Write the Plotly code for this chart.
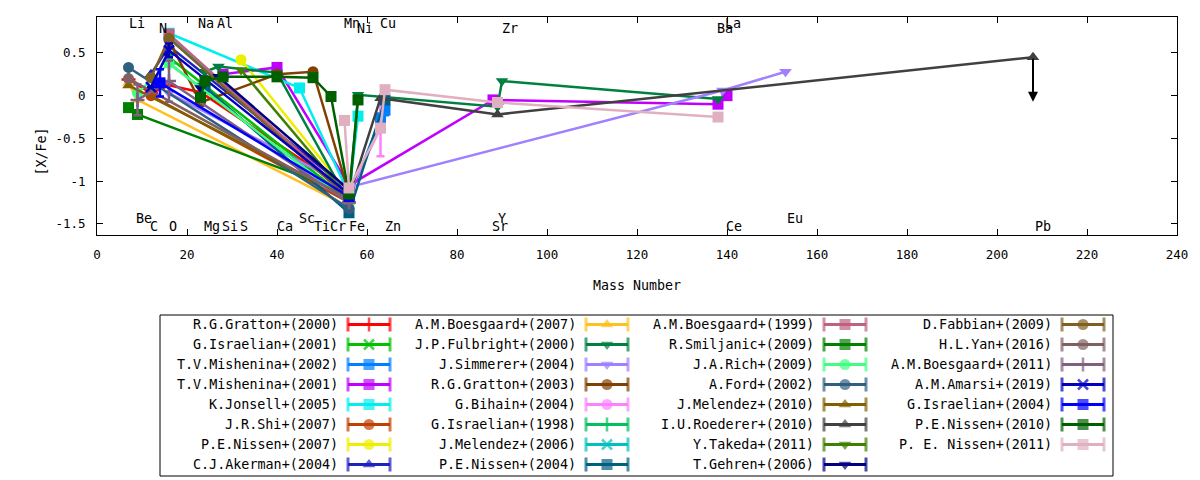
import plotly.graph_objects as go

# mass number used for each element
MASS = {"Li": 7, "Be": 9, "C": 12, "N": 14, "O": 16, "Na": 23, "Mg": 24, "Al": 27,
        "Si": 28, "S": 32, "Ca": 40, "Sc": 45, "Ti": 48, "Cr": 52, "Mn": 55, "Fe": 56,
        "Ni": 58, "Cu": 63, "Zn": 64, "Sr": 88, "Y": 89, "Zr": 90, "Ba": 138,
        "La": 139, "Ce": 140, "Eu": 153, "Pb": 208}

# (element, [X/Fe], optional error)
GRATTON_2000 = [("Li", 0.19), ("C", 0.03), ("O", 0.12), ("Na", 0.04), ("Fe", -1.12)]
ISRAELIAN_2001 = [("O", 0.45), ("Fe", -1.22)]
MISHENINA_2002 = [("Fe", -1.2), ("Cu", -0.27, 0.06), ("Zn", -0.17, 0.06)]
MISHENINA_2001 = [("Si", 0.25), ("Ca", 0.33), ("Fe", -1.05), ("Sr", -0.05), ("Ba", -0.1), ("Ce", 0.0)]
JONSELL_2005 = [("O", 0.73), ("Sc", 0.09), ("Fe", -1.15), ("Ni", -0.24)]
SHI_2007 = [("C", 0.0), ("Fe", -1.25)]
NISSEN_2007 = [("S", 0.42), ("Fe", -1.15)]
AKERMAN_2004 = [("C", 0.25), ("O", 0.58), ("Fe", -1.1)]
BOESGAARD_2007 = [("Li", 0.15), ("Be", -0.05), ("Fe", -1.3)]
FULBRIGHT_2000 = [("Na", 0.12), ("Mg", 0.28), ("Al", 0.34), ("Ca", 0.27), ("Fe", -1.25),
                  ("Ni", 0.01), ("Y", -0.13), ("Zr", 0.17), ("Ba", -0.04)]
SIMMERER_2004 = [("O", 0.03), ("Fe", -1.07), ("La", 0.06), ("Eu", 0.28)]
GRATTON_2003 = [("O", 0.65), ("Na", -0.08), ("Ca", 0.25), ("Ti", 0.28), ("Fe", -1.15)]
BIHAIN_2004 = [("Fe", -1.13), ("Cu", -0.38, 0.33)]
ISRAELIAN_1998 = [("O", 0.38), ("Fe", -1.25)]
MELENDEZ_2006 = [("O", 0.7), ("Fe", -1.2)]
NISSEN_2004 = [("Mg", 0.1), ("Fe", -1.37), ("Zn", -0.05)]
BOESGAARD_1999 = [("O", 0.72), ("Fe", -1.18)]
SMILJANIC_2009 = [("Li", -0.14), ("Be", -0.22), ("Fe", -1.15)]
RICH_2009 = [("Be", 0.03), ("O", 0.38), ("Fe", -1.25)]
FORD_2002 = [("Li", 0.33), ("Fe", -1.32)]
MELENDEZ_2010 = [("Li", 0.12), ("Fe", -1.2)]
ROEDERER_2010 = [("Fe", -1.18), ("Cu", -0.03), ("Y", -0.22), ("Pb", 0.45)]
TAKEDA_2011 = [("S", 0.3), ("Fe", -1.2)]
GEHREN_2006 = [("Na", 0.09), ("Mg", 0.2), ("Al", 0.22), ("Fe", -1.1)]
FABBIAN_2009 = [("C", 0.21), ("O", 0.67), ("Fe", -1.2)]
YAN_2016 = [("Li", 0.2), ("Fe", -1.22)]
BOESGAARD_2011 = [("Be", -0.05, 0.18), ("O", 0.17, 0.24), ("Fe", -1.25)]
AMARSI_2019 = [("C", 0.1), ("O", 0.53, 0.08), ("Fe", -1.15)]
ISRAELIAN_2004 = [("N", 0.15, 0.16), ("Fe", -1.18)]
NISSEN_2010 = [("Na", -0.02), ("Mg", 0.17), ("Si", 0.22), ("Ca", 0.22), ("Ti", 0.21),
               ("Cr", -0.01), ("Fe", -1.15), ("Ni", -0.05)]
NISSEN_2011 = [("Mn", -0.29), ("Fe", -1.08), ("Cu", -0.38), ("Zn", 0.07), ("Y", -0.08), ("Ba", -0.25)]

SERIES = [
    ("R.G.Gratton+(2000)", GRATTON_2000), ("G.Israelian+(2001)", ISRAELIAN_2001),
    ("T.V.Mishenina+(2002)", MISHENINA_2002), ("T.V.Mishenina+(2001)", MISHENINA_2001),
    ("K.Jonsell+(2005)", JONSELL_2005), ("J.R.Shi+(2007)", SHI_2007),
    ("P.E.Nissen+(2007)", NISSEN_2007), ("C.J.Akerman+(2004)", AKERMAN_2004),
    ("A.M.Boesgaard+(2007)", BOESGAARD_2007), ("J.P.Fulbright+(2000)", FULBRIGHT_2000),
    ("J.Simmerer+(2004)", SIMMERER_2004), ("R.G.Gratton+(2003)", GRATTON_2003),
    ("G.Bihain+(2004)", BIHAIN_2004), ("G.Israelian+(1998)", ISRAELIAN_1998),
    ("J.Melendez+(2006)", MELENDEZ_2006), ("P.E.Nissen+(2004)", NISSEN_2004),
    ("A.M.Boesgaard+(1999)", BOESGAARD_1999), ("R.Smiljanic+(2009)", SMILJANIC_2009),
    ("J.A.Rich+(2009)", RICH_2009), ("A.Ford+(2002)", FORD_2002),
    ("J.Melendez+(2010)", MELENDEZ_2010), ("I.U.Roederer+(2010)", ROEDERER_2010),
    ("Y.Takeda+(2011)", TAKEDA_2011), ("T.Gehren+(2006)", GEHREN_2006),
    ("D.Fabbian+(2009)", FABBIAN_2009), ("H.L.Yan+(2016)", YAN_2016),
    ("A.M.Boesgaard+(2011)", BOESGAARD_2011), ("A.M.Amarsi+(2019)", AMARSI_2019),
    ("G.Israelian+(2004)", ISRAELIAN_2004), ("P.E.Nissen+(2010)", NISSEN_2010),
    ("P. E. Nissen+(2011)", NISSEN_2011),
]

COLORS = ["#ff0000", "#00c000", "#0080ff", "#c000ff", "#00eeee", "#c04000", "#eeee00", "#2020c0",
          "#ffc020", "#008040", "#a080ff", "#804000", "#ff80ff", "#00c060", "#00c0c0", "#006080",
          "#c06080", "#008000", "#40ff80", "#306080", "#806000", "#404040", "#408000", "#000080",
          "#806020", "#806060", "#806080", "#0000c0", "#0000ff", "#006000", "#e0b0c0"]
SYMBOLS = ["cross-thin", "x-thin", "square", "square", "square", "circle", "circle", "triangle-up",
           "triangle-up", "triangle-down", "triangle-down", "circle", "circle", "cross-thin", "x-thin",
           "square", "square", "square", "circle", "circle", "triangle-up", "triangle-up",
           "triangle-down", "triangle-down", "circle", "circle", "cross-thin", "x-thin",
           "square", "square", "square"]

# upper limit (arrow down) for this series/element
UPPER_LIMIT = ("I.U.Roederer+(2010)", "Pb")

# element labels drawn on the plot
LABEL_NAMES = ["Li", "Na", "Al", "Mn", "Cu", "La",
               "N", "Ni", "Zr", "Ba",
               "C", "O", "Mg", "Si", "S", "Ca", "Ti", "Cr", "Fe", "Zn", "Sr", "Ce", "Pb",
               "Be", "Sc", "Y", "Eu"]
LABEL_X = [6.6, 22.1, 26.2, 54.4, 62.4, 139.0,
           13.3, 57.3, 89.6, 137.3,
           11.3, 15.5, 23.3, 27.3, 31.3, 39.6, 47.7, 51.3, 55.5, 63.6, 87.3, 139.4, 207.9,
           8.2, 44.4, 88.7, 152.9]
LABEL_Y = [0.84] * 6 + [0.785] * 4 + [-1.525] * 13 + [-1.44] * 4

FONT = "DejaVu Sans Mono"

fig = go.Figure()

for i, (name, pts) in enumerate(SERIES):
    c = COLORS[i]
    sym = SYMBOLS[i]
    xs = [MASS[p[0]] for p in pts]
    ys = [p[1] for p in pts]
    errs = [p[2] if len(p) > 2 else None for p in pts]
    thin = sym.endswith("thin")
    fig.add_trace(go.Scatter(
        x=xs, y=ys, mode="lines+markers", name=name, showlegend=False,
        line=dict(color=c, width=2.5),
        marker=dict(symbol=sym, color=c, size=11 if not thin else 10,
                    line=dict(color=c, width=2.5 if thin else 0)),
        error_y=dict(type="data", array=errs, visible=any(e is not None for e in errs),
                     color=c, thickness=2.5, width=4),
        xaxis="x", yaxis="y",
    ))

# upper limit arrow
for name, pts in SERIES:
    if name == UPPER_LIMIT[0]:
        for p in pts:
            if p[0] == UPPER_LIMIT[1]:
                fig.add_annotation(x=MASS[p[0]], y=p[1] - 0.52, ax=MASS[p[0]], ay=p[1],
                                   xref="x", yref="y", axref="x", ayref="y", text="",
                                   showarrow=True, arrowhead=2, arrowsize=1,
                                   arrowwidth=2, arrowcolor="black")

for name, lx, ly in zip(LABEL_NAMES, LABEL_X, LABEL_Y):
    fig.add_annotation(x=lx, y=ly, xref="x", yref="y", text=name, showarrow=False,
                       xanchor="left", yanchor="middle",
                       font=dict(family=FONT, size=13.4, color="black"))

# legend drawn on its own pixel-like axis, column-major like gnuplot
rows = 8
for i, (name, pts) in enumerate(SERIES):
    col, row = divmod(i, rows)
    y = 324.5 + 20 * row
    x0 = 348 + 238 * col
    c = COLORS[i]
    sym = SYMBOLS[i]
    thin = sym.endswith("thin")
    fig.add_trace(go.Scatter(
        x=[x0, x0 + 21, x0 + 42], y=[y, y, y], mode="lines+markers", showlegend=False,
        hoverinfo="skip", line=dict(color=c, width=3),
        marker=dict(symbol=["line-ns", sym, "line-ns"], color=c,
                    size=[10, 10 if thin else 11, 10],
                    line=dict(color=c, width=[3, 2.5 if thin else 0, 3])),
        xaxis="x2", yaxis="y2",
    ))
    fig.add_annotation(x=x0 - 8, y=y, xref="x2", yref="y2", text=name, showarrow=False,
                       xanchor="right", yanchor="middle",
                       font=dict(family=FONT, size=13.4, color="black"))

fig.add_shape(type="rect", xref="x2", yref="y2", x0=160, x1=1113, y0=315, y1=476,
              line=dict(color="black", width=1), fillcolor="rgba(0,0,0,0)")

fig.add_annotation(x=637 / 1200, y=1 - 285 / 480, xref="paper", yref="paper",
                   text="Mass Number", showarrow=False,
                   font=dict(family=FONT, size=13.3, color="black"))
fig.add_annotation(x=32 / 1200, y=1 - 126 / 480, xref="paper", yref="paper",
                   text="[X/Fe]", showarrow=False, textangle=-90,
                   font=dict(family=FONT, size=13.3, color="black"))

axis_common = dict(showline=True, linecolor="black", linewidth=1, mirror="ticks",
                   ticks="inside", ticklen=6, tickcolor="black", showgrid=False,
                   zeroline=False, tickfont=dict(family=FONT, size=12.5, color="black"),
                   ticklabelstandoff=8, automargin=False)

fig.update_layout(
    width=1200, height=480,
    margin=dict(l=0, r=0, t=0, b=0, autoexpand=False),
    paper_bgcolor="white", plot_bgcolor="white",
    showlegend=False,
    xaxis=dict(domain=[97 / 1200, 1177 / 1200], range=[0, 240], dtick=20, anchor="y",
               **axis_common),
    yaxis=dict(domain=[1 - 235 / 480, 1 - 17 / 480], range=[-1.63, 0.92],
               tickvals=[-1.5, -1, -0.5, 0, 0.5], ticktext=["-1.5", "-1", "-0.5", "0", "0.5"],
               anchor="x", **axis_common),
    xaxis2=dict(domain=[0, 1], range=[0, 1200], visible=False, anchor="y2", fixedrange=True,
                automargin=False),
    yaxis2=dict(domain=[0, 300 / 480 - 0.25], range=[480, 300], visible=False, anchor="x2",
                fixedrange=True, automargin=False),
)

fig.write_html("out.html", config={"displayModeBar": False},
               post_script="document.body.style.margin='0';")
